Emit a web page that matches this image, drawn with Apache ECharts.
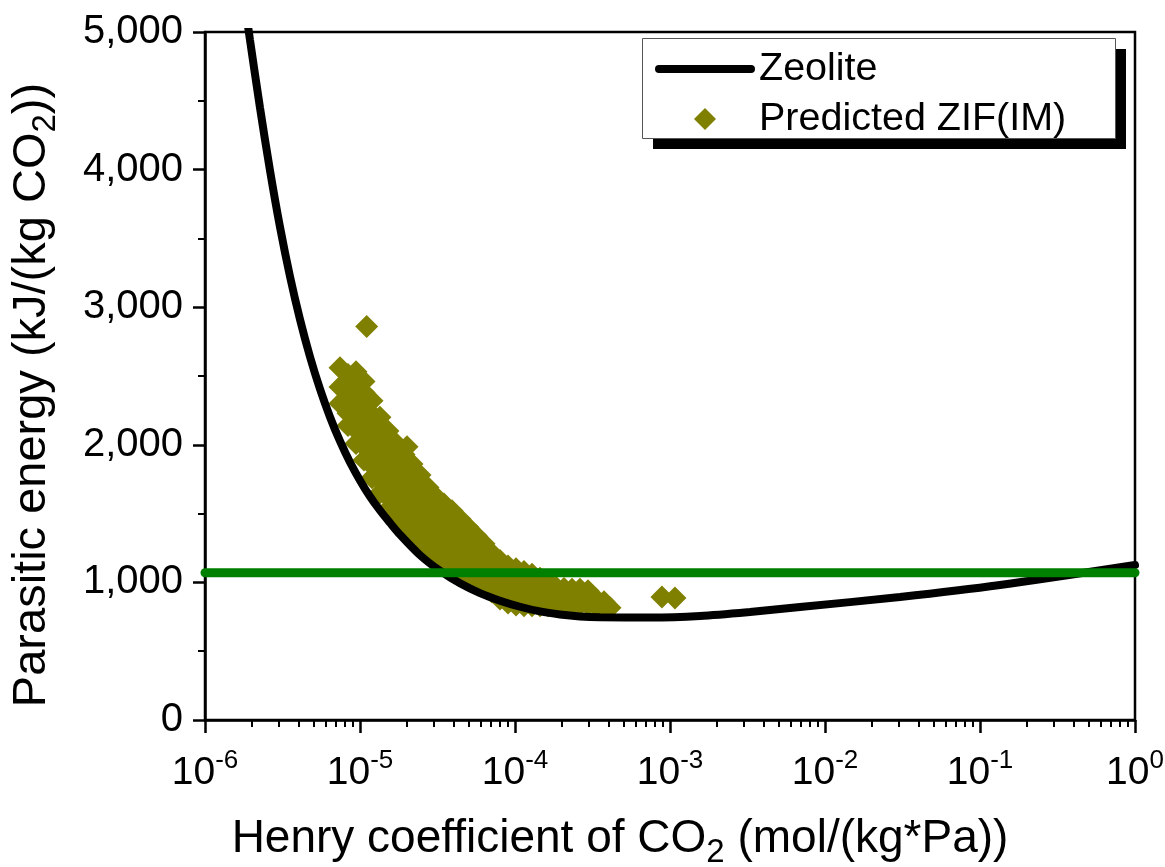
<!DOCTYPE html>
<html>
<head>
<meta charset="utf-8">
<script src="https://cdn.jsdelivr.net/npm/echarts@6/dist/echarts.min.js"></script>
<style>
  html, body { margin: 0; padding: 0; background: #fff; }
  #chart { width: 1165px; height: 867px; }
</style>
</head>
<body>
<div id="chart"></div>
<script>
// Zeolite parasitic-energy curve: [Henry coefficient, kJ/kg CO2]
const zeoliteCurve = [
  [1.841e-6, 5145], [1.951e-6, 4942], [2.263e-6, 4451], [2.627e-6, 3993],
  [3.047e-6, 3583], [3.535e-6, 3223], [4.102e-6, 2911], [4.758e-6, 2640],
  [5.520e-6, 2405], [6.404e-6, 2202], [7.430e-6, 2026], [8.619e-6, 1873],
  [1.000e-5, 1741], [1.160e-5, 1624], [1.346e-5, 1523], [1.561e-5, 1433],
  [1.811e-5, 1347], [2.438e-5, 1198], [3.282e-5, 1084], [4.418e-5, 993],
  [5.946e-5, 922], [8.000e-5, 867], [1.077e-4, 823], [1.450e-4, 789],
  [1.951e-4, 767], [2.627e-4, 753], [3.535e-4, 747], [7.430e-4, 745],
  [1.561e-3, 756], [3.282e-3, 785], [6.898e-3, 821], [3.047e-2, 894],
  [1.346e-1, 981], [1.0, 1126]
];

// Predicted ZIF(IM) structures: [Henry coefficient, kJ/kg CO2]
const zifPoints = [
  [7.43e-6, 2300], [7.43e-6, 2420], [7.43e-6, 2560],
  [8.37e-6, 2140], [8.37e-6, 2230], [8.37e-6, 2320], [8.37e-6, 2410], [8.37e-6, 2510],
  [9.42e-6, 2010], [9.42e-6, 2110], [9.42e-6, 2210], [9.42e-6, 2310], [9.42e-6, 2430], [9.42e-6, 2530],
  [1.061e-5, 1890], [1.061e-5, 1990], [1.061e-5, 2090], [1.061e-5, 2190], [1.061e-5, 2290], [1.061e-5, 2380], [1.061e-5, 2460],
  [1.104e-5, 2860],
  [1.195e-5, 1760], [1.195e-5, 1850], [1.195e-5, 1940], [1.195e-5, 2030], [1.195e-5, 2120], [1.195e-5, 2220], [1.195e-5, 2320],
  [1.345e-5, 1650], [1.345e-5, 1740], [1.345e-5, 1830], [1.345e-5, 1920], [1.345e-5, 2010], [1.345e-5, 2100], [1.345e-5, 2200],
  [1.515e-5, 1530], [1.515e-5, 1620], [1.515e-5, 1710], [1.515e-5, 1800], [1.515e-5, 1890], [1.515e-5, 1990], [1.515e-5, 2100],
  [1.707e-5, 1460], [1.707e-5, 1550], [1.707e-5, 1640], [1.707e-5, 1730], [1.707e-5, 1820], [1.707e-5, 1910], [1.707e-5, 2010],
  [1.922e-5, 1390], [1.922e-5, 1480], [1.922e-5, 1570], [1.922e-5, 1660], [1.922e-5, 1750], [1.922e-5, 1850], [1.922e-5, 1930],
  [2.01e-5, 1985],
  [2.165e-5, 1330], [2.165e-5, 1420], [2.165e-5, 1510], [2.165e-5, 1600], [2.165e-5, 1690], [2.165e-5, 1780], [2.165e-5, 1860],
  [2.438e-5, 1270], [2.438e-5, 1360], [2.438e-5, 1450], [2.438e-5, 1540], [2.438e-5, 1630], [2.438e-5, 1710], [2.438e-5, 1780],
  [2.746e-5, 1220], [2.746e-5, 1310], [2.746e-5, 1400], [2.746e-5, 1490], [2.746e-5, 1580], [2.746e-5, 1690],
  [3.093e-5, 1180], [3.093e-5, 1260], [3.093e-5, 1340], [3.093e-5, 1430], [3.093e-5, 1520], [3.093e-5, 1620],
  [3.483e-5, 1140], [3.483e-5, 1220], [3.483e-5, 1300], [3.483e-5, 1390], [3.483e-5, 1480], [3.483e-5, 1570],
  [3.923e-5, 1100], [3.923e-5, 1180], [3.923e-5, 1260], [3.923e-5, 1350], [3.923e-5, 1440], [3.923e-5, 1520],
  [4.418e-5, 1070], [4.418e-5, 1150], [4.418e-5, 1230], [4.418e-5, 1320], [4.418e-5, 1400], [4.418e-5, 1460],
  [4.976e-5, 1040], [4.976e-5, 1120], [4.976e-5, 1200], [4.976e-5, 1290], [4.976e-5, 1400],
  [5.604e-5, 1000], [5.604e-5, 1080], [5.604e-5, 1170], [5.604e-5, 1250], [5.604e-5, 1340],
  [6.31e-5, 970], [6.31e-5, 1050], [6.31e-5, 1140], [6.31e-5, 1220], [6.31e-5, 1280],
  [7.107e-5, 930], [7.107e-5, 1020], [7.107e-5, 1110], [7.107e-5, 1210],
  [8.0e-5, 880], [8.0e-5, 970], [8.0e-5, 1060], [8.0e-5, 1160],
  [9.01e-5, 850], [9.01e-5, 930], [9.01e-5, 1020], [9.01e-5, 1120],
  [1.015e-4, 835], [1.015e-4, 920], [1.015e-4, 1010], [1.015e-4, 1100],
  [1.143e-4, 830], [1.143e-4, 910], [1.143e-4, 1000], [1.143e-4, 1080],
  [1.287e-4, 830], [1.287e-4, 900], [1.287e-4, 980], [1.287e-4, 1060],
  [1.45e-4, 830], [1.45e-4, 900], [1.45e-4, 970], [1.45e-4, 1030],
  [1.633e-4, 830], [1.633e-4, 900], [1.633e-4, 960], [1.633e-4, 1000],
  [1.839e-4, 830], [1.839e-4, 900], [1.839e-4, 965],
  [2.071e-4, 830], [2.071e-4, 890], [2.071e-4, 955],
  [2.332e-4, 835], [2.332e-4, 890], [2.332e-4, 950],
  [2.626e-4, 840], [2.626e-4, 900], [2.626e-4, 950],
  [2.958e-4, 840], [2.958e-4, 900], [2.958e-4, 940],
  [3.331e-4, 830], [3.331e-4, 880],
  [3.751e-4, 820], [3.751e-4, 860],
  [4.10e-4, 815],
  [8.87e-4, 894], [1.076e-3, 887]
];

// Horizontal reference level across the full Henry-coefficient range
const referenceLevel = [[1e-6, 1070], [1, 1070]];

// Axis ticks
const xTickExponents = ['-6', '-5', '-4', '-3', '-2', '-1', '0'];
const yTickValues = [0, 1000, 2000, 3000, 4000, 5000];
const yTickLabels = ['0', '1,000', '2,000', '3,000', '4,000', '5,000'];

const FONT = "'Liberation Sans', Arial, sans-serif";

const chart = echarts.init(document.getElementById('chart'), null, { renderer: 'canvas' });

chart.setOption({
  backgroundColor: '#ffffff',
  animation: false,
  grid: {
    left: 205, right: 30, top: 32, bottom: 147,
    containLabel: false, outerBoundsMode: 'none',
    show: true, borderColor: '#000', borderWidth: 2.5, backgroundColor: 'transparent'
  },
  // legend frame with its offset drop shadow
  graphic: [
    { type: 'rect', z: 10, shape: { x: 653, y: 49, width: 473, height: 100 }, style: { fill: '#000' } },
    { type: 'rect', z: 11, shape: { x: 642.5, y: 38.5, width: 473, height: 100 }, style: { fill: '#fff', stroke: '#555', lineWidth: 1 } }
  ],
  legend: {
    data: [
      { name: 'Zeolite', itemStyle: { opacity: 0 } },
      { name: 'Predicted ZIF(IM)', icon: 'path://M10 0 L20 10 L10 20 L0 10 Z' }
    ],
    orient: 'vertical',
    left: 642, top: 38,
    padding: [11, 20, 0, 13],
    itemWidth: 92, itemHeight: 22, itemGap: 10,
    symbolKeepAspect: true,
    z: 20,
    backgroundColor: 'transparent',
    borderWidth: 0,
    lineStyle: { width: 8, cap: 'round' },
    textStyle: { fontFamily: FONT, fontSize: 39.5, color: '#000', lineHeight: 40, padding: [0, 0, 0, 3] },
    selectedMode: false
  },
  xAxis: {
    type: 'log', logBase: 10, min: 1e-6, max: 1,
    name: 'Henry coefficient of CO{sub|2} (mol/(kg*Pa))',
    nameLocation: 'middle', nameGap: 89,
    nameTextStyle: {
      fontFamily: FONT, fontSize: 46, color: '#000', lineHeight: 60,
      padding: [0, 100, 0, 0],
      rich: { sub: { fontFamily: FONT, fontSize: 33, verticalAlign: 'bottom', lineHeight: 33 } }
    },
    axisLine: { lineStyle: { color: '#000', width: 2.5 } },
    axisTick: { show: true, inside: false, length: 13, lineStyle: { color: '#000', width: 2.5 } },
    minorTick: { show: true, splitNumber: 9, length: 7, lineStyle: { color: '#000', width: 2 } },
    splitLine: { show: false },
    axisLabel: {
      margin: 28,
      formatter: function (v) {
        const i = Math.round(Math.log10(v)) + 6;
        return '{b|10}{e|' + xTickExponents[i] + '}';
      },
      rich: {
        b: { fontFamily: FONT, fontSize: 39, color: '#000', lineHeight: 50 },
        e: { fontFamily: FONT, fontSize: 26, color: '#000', verticalAlign: 'top', lineHeight: 34 }
      }
    }
  },
  yAxis: {
    type: 'value', min: 0, max: 5000, interval: 1000,
    name: 'Parasitic energy (kJ/(kg CO{sub|2}))',
    nameLocation: 'middle', nameGap: 143,
    nameTextStyle: {
      fontFamily: FONT, fontSize: 47, color: '#000', lineHeight: 60,
      padding: [0, 38, 0, 0],
      rich: { sub: { fontFamily: FONT, fontSize: 33, verticalAlign: 'bottom', lineHeight: 33 } }
    },
    axisLine: { show: true, lineStyle: { color: '#000', width: 2.5 } },
    axisTick: { show: true, inside: false, length: 12, lineStyle: { color: '#000', width: 2.5 } },
    minorTick: { show: true, splitNumber: 2, length: 7, lineStyle: { color: '#000', width: 2 } },
    splitLine: { show: false },
    axisLabel: {
      margin: 22,
      fontFamily: FONT, fontSize: 40, color: '#000',
      formatter: function (v) {
        return yTickLabels[yTickValues.indexOf(v)];
      }
    }
  },
  series: [
    {
      name: 'Predicted ZIF(IM)',
      type: 'scatter',
      data: zifPoints,
      symbol: 'diamond',
      symbolSize: 23,
      itemStyle: { color: '#808000', opacity: 1 },
      z: 2
    },
    {
      name: 'Zeolite',
      type: 'line',
      data: zeoliteCurve,
      smooth: 0.3,
      showSymbol: false,
      symbol: 'none',
      clip: true,
      lineStyle: { color: '#000', width: 8, cap: 'round' },
      itemStyle: { color: '#000' },
      z: 3
    },
    {
      name: 'Reference level',
      type: 'line',
      data: referenceLevel,
      showSymbol: false,
      symbol: 'none',
      clip: false,
      lineStyle: { color: '#008000', width: 9, cap: 'round' },
      z: 4
    }
  ]
});
</script>
</body>
</html>
